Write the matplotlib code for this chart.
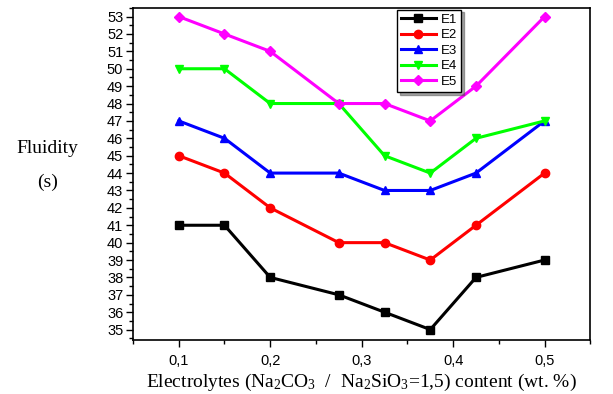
import matplotlib.pyplot as plt
from matplotlib.ticker import MultipleLocator, FuncFormatter

x = [0.1, 0.15, 0.2, 0.275, 0.325, 0.375, 0.425, 0.5]
e1 = [41, 41, 38, 37, 36, 35, 38, 39]
e2 = [45, 44, 42, 40, 40, 39, 41, 44]
e3 = [47, 46, 44, 44, 43, 43, 44, 47]
e4 = [50, 50, 48, 48, 45, 44, 46, 47]
e5 = [53, 52, 51, 48, 48, 47, 49, 53]

series = [('E1', e1, 'black', 's'),
          ('E2', e2, '#ff0000', 'o'),
          ('E3', e3, '#0000ff', '^'),
          ('E4', e4, '#00ff00', 'v'),
          ('E5', e5, '#ff00ff', 'D')]

plt.rcParams['mathtext.fontset'] = 'custom'
plt.rcParams['mathtext.rm'] = 'Liberation Serif'
plt.rcParams['mathtext.it'] = 'Liberation Serif:italic'

fig = plt.figure(figsize=(6.13, 3.94), dpi=100)
ax = fig.add_axes([0.217, 0.137, 0.746, 0.843])

for name, y, c, m in series:
    ms = 5 if m == 'D' else 6
    ax.plot(x, y, color=c, marker=m, markersize=ms, linewidth=2.2, label=name)

ax.set_xlim(0.05, 0.55)
ax.set_ylim(34.4, 53.5)
ax.xaxis.set_major_locator(MultipleLocator(0.1))
ax.xaxis.set_minor_locator(MultipleLocator(0.05))
ax.yaxis.set_major_locator(MultipleLocator(1))
ax.yaxis.set_minor_locator(MultipleLocator(0.5))
ax.xaxis.set_major_formatter(FuncFormatter(lambda v, p: ('%.1f' % v).replace('.', ',')))
ax.yaxis.set_major_formatter(FuncFormatter(lambda v, p: '%d' % round(v)))
ax.tick_params(which='both', direction='out', top=False, right=False)
ax.tick_params(which='major', length=5, width=1)
ax.tick_params(which='minor', length=3, width=1)
ax.tick_params(axis='x', labelsize=10.5, pad=5)
ax.tick_params(axis='y', labelsize=10.5, pad=2)
for lbl in ax.get_xticklabels() + ax.get_yticklabels():
    lbl.set_family('Liberation Sans')
for s in ax.spines.values():
    s.set_linewidth(1.2)

ax.set_xlabel('Electrolytes (Na$_2$CO$_3$  /  Na$_2$SiO$_3$=1,5) content (wt. %)',
              family='Liberation Serif', fontsize=14, labelpad=3)
fig.text(0.078, 0.622, 'Fluidity', family='Liberation Serif', fontsize=14, ha='center', va='center')
fig.text(0.078, 0.538, '(s)', family='Liberation Serif', fontsize=14, ha='center', va='center')

leg = ax.legend(loc='upper left', bbox_to_anchor=(0.578, 0.995), borderaxespad=0,
                fancybox=False, shadow=True, edgecolor='black', handlelength=2.6,
                labelspacing=0.25, borderpad=0.3, handletextpad=0.4,
                prop={'family': 'Liberation Sans', 'size': 9.5})
leg.get_frame().set_linewidth(1.0)

fig.savefig('out.png', dpi=100)
